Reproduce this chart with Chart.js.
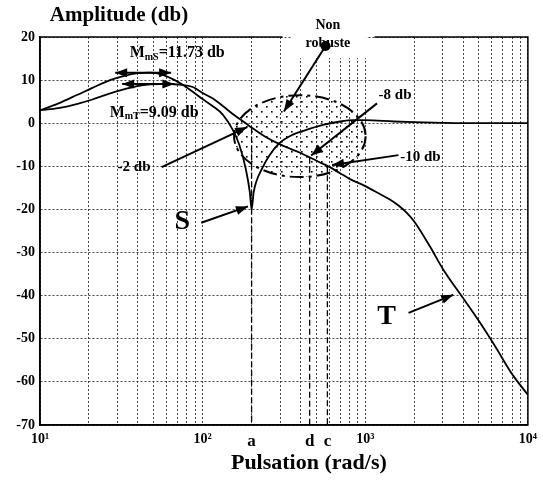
<!DOCTYPE html>
<html><head><meta charset="utf-8">
<script src="https://cdn.jsdelivr.net/npm/chart.js@4/dist/chart.umd.min.js"></script>
<style>html,body{margin:0;padding:0;background:#fff}</style>
</head><body>
<canvas id="c" width="543" height="482"></canvas>
<script>
// ---- data ----
const sFreq = [10,13,17,21,27,33,40,47,55,65,75,87,100,115,133,153,168,184,195,200,206,214,232,256,295,356,430,550,700,850,1000,1500,2000,3000,5000,10000];
const sGain = [3.0,4.6,6.6,8.2,10.0,11.0,11.6,11.73,11.4,10.3,9.0,7.3,5.6,4.0,2.0,-1.5,-5.0,-10.5,-16,-20,-16,-13.5,-10.5,-7.6,-4.7,-2.7,-1.6,-0.4,0.4,0.7,0.7,0.4,0.25,0.1,0,0];
const tFreq = [10,13,17,21,27,34,42,54,65,75,87,100,115,133,160,184,200,240,295,350,400,455,520,585,700,800,1000,1200,1400,1600,1800,2000,2500,3000,4000,5000,6300,8000,10000];
const tGain = [3.0,3.5,4.5,5.5,6.9,8.0,8.8,9.09,9.05,8.9,8.4,7.0,5.8,4.0,1.6,0.0,-1.0,-3.0,-4.8,-6.0,-6.9,-7.9,-9.0,-9.9,-11.6,-12.9,-14.6,-16.2,-17.6,-19.1,-20.8,-22.8,-28.6,-33.8,-40.6,-45.9,-51.8,-58.2,-63];
const yTicks = [20,10,0,-10,-20,-30,-40,-50,-60,-70];
const decadeTicks = [10,100,1000,10000];
const decadeLabels = ['10\u00B9','10\u00B2','10\u00B3','10\u2074'];
const markerFreq = [200,455,585];
const markerLabels = ['a','d','c'];
const markerTop = [-1,-8,-10];

const SERIF = '"Liberation Serif","Times New Roman",serif';

function near(a,b){return Math.abs(a-b) < 1e-6*Math.max(1,Math.abs(b));}
function xLabel(v){
  for (let i=0;i<decadeTicks.length;i++) if (near(v,decadeTicks[i])) return decadeLabels[i];
  for (let i=0;i<markerFreq.length;i++) if (near(v,markerFreq[i])) return markerLabels[i];
  return '';
}
function isMarker(v){return markerFreq.some(m=>near(v,m));}
function isExtraMarker(v){return isMarker(v) && !(near(v,200));}

// ---- annotation overlay (positions in data coordinates) ----
const notes = {
  ellipse: {xMin:156, xMax:1005, yMin:-12.5, yMax:6.5},
  clearBox: {xMin:349, xMax:1020, yMin:15.1, yMax:20},
  frameGap: {xMin:310, xMax:1140},
  texts: [
    {t:'-2 db', x:30, y:-10.2, size:15, align:'left'},
    {t:'S', x:75, y:-22.9, size:28, align:'center'},
    {t:'T', x:1352, y:-45, size:28, align:'center'},
    {t:'Non', x:589, y:22.8, size:14, align:'center'},
    {t:'robuste', x:589, y:18.6, size:14, align:'center'},
    {t:'-8 db', x:1208, y:6.5, size:15, align:'left'},
    {t:'-10 db', x:1641, y:-7.8, size:15, align:'left'}
  ],
  subTexts: [
    {main:'M', sub:'mS', rest:'=11.73 db', x:35.6, y:16.3, size:16},
    {main:'M', sub:'mT', rest:'=9.09 db', x:26.8, y:2.4, size:16}
  ],
  arrows: [
    {x1:29, y1:11.73, x2:64, y2:11.73, both:true},
    {x1:32, y1:9.09, x2:67, y2:9.09, both:true},
    {x1:56, y1:-10.2, x2:188, y2:-0.9},
    {x1:98, y1:-23.1, x2:190, y2:-19.3},
    {x1:1846, y1:-44, x2:3475, y2:-39.8},
    {x1:570, y1:17.9, x2:316, y2:2.7},
    {x1:1181, y1:4.6, x2:465, y2:-7.5},
    {x1:1600, y1:-7.4, x2:625, y2:-9.7}
  ],
  dot: {x:570, y:17.9}
};

function makeDotPattern(ctx){
  const pc = document.createElement('canvas');
  pc.width = 10; pc.height = 10;
  const p = pc.getContext('2d');
  p.fillStyle = '#000';
  p.fillRect(1,1,1.6,1.6);
  p.fillRect(6,6,1.6,1.6);
  return ctx.createPattern(pc,'repeat');
}

function arrowHead(ctx, x1,y1,x2,y2, len, wid){
  const a = Math.atan2(y2-y1, x2-x1);
  ctx.beginPath();
  ctx.moveTo(x2,y2);
  ctx.lineTo(x2 - len*Math.cos(a) + wid*Math.sin(a), y2 - len*Math.sin(a) - wid*Math.cos(a));
  ctx.lineTo(x2 - len*Math.cos(a) - wid*Math.sin(a), y2 - len*Math.sin(a) + wid*Math.cos(a));
  ctx.closePath();
  ctx.fill();
}

const overlay = {
  id:'overlay',
  beforeDatasetsDraw(chart){
    const ctx = chart.ctx, xs = chart.scales.x, ys = chart.scales.y;
    // white area under the "Non robuste" label
    const cb = notes.clearBox;
    ctx.save();
    ctx.fillStyle = '#fff';
    const cl = xs.getPixelForValue(cb.xMin), cr = xs.getPixelForValue(cb.xMax);
    const ct = ys.getPixelForValue(cb.yMax), cbt = ys.getPixelForValue(cb.yMin);
    ctx.fillRect(cl, ct-1, cr-cl, cbt-ct+1);
    ctx.restore();

    const e = notes.ellipse;
    const l = xs.getPixelForValue(e.xMin), r = xs.getPixelForValue(e.xMax);
    const t = ys.getPixelForValue(e.yMax), b = ys.getPixelForValue(e.yMin);
    ctx.save();
    ctx.beginPath();
    ctx.ellipse((l+r)/2,(t+b)/2,(r-l)/2,(b-t)/2,0,0,Math.PI*2);
    ctx.fillStyle = makeDotPattern(ctx);
    ctx.fill();
    ctx.setLineDash([14,5,3,5]);
    ctx.lineWidth = 2;
    ctx.strokeStyle = '#000';
    ctx.stroke();
    ctx.restore();
    // marker dashed verticals
    ctx.save();
    ctx.setLineDash([6,3]);
    ctx.lineWidth = 1.3;
    ctx.strokeStyle = '#000';
    markerFreq.forEach((f,i)=>{
      const px = xs.getPixelForValue(f);
      ctx.beginPath();
      ctx.moveTo(px, ys.getPixelForValue(markerTop[i]));
      ctx.lineTo(px, ys.getPixelForValue(-70));
      ctx.stroke();
    });
    ctx.restore();
  },
  afterDatasetsDraw(chart){
    const ctx = chart.ctx, xs = chart.scales.x, ys = chart.scales.y, ca = chart.chartArea;
    ctx.save();
    // frame with a gap in the top edge behind the label
    ctx.strokeStyle = '#000'; ctx.lineWidth = 1.5; ctx.setLineDash([]);
    const g1 = xs.getPixelForValue(notes.frameGap.xMin), g2 = xs.getPixelForValue(notes.frameGap.xMax);
    ctx.beginPath();
    ctx.moveTo(g1, ca.top); ctx.lineTo(ca.left, ca.top); ctx.lineTo(ca.left, ca.bottom);
    ctx.lineTo(ca.right, ca.bottom); ctx.lineTo(ca.right, ca.top); ctx.lineTo(g2, ca.top);
    ctx.stroke();
    // arrows
    ctx.fillStyle = '#000'; ctx.lineWidth = 2;
    notes.arrows.forEach(a=>{
      const x1 = xs.getPixelForValue(a.x1), y1 = ys.getPixelForValue(a.y1);
      const x2 = xs.getPixelForValue(a.x2), y2 = ys.getPixelForValue(a.y2);
      ctx.beginPath(); ctx.moveTo(x1,y1); ctx.lineTo(x2,y2); ctx.stroke();
      arrowHead(ctx,x1,y1,x2,y2,12,4.5);
      if (a.both) arrowHead(ctx,x2,y2,x1,y1,12,4.5);
    });
    // dot
    ctx.beginPath();
    ctx.arc(xs.getPixelForValue(notes.dot.x), ys.getPixelForValue(notes.dot.y), 5, 0, Math.PI*2);
    ctx.fill();
    // texts
    ctx.textBaseline = 'middle';
    notes.texts.forEach(n=>{
      ctx.font = 'bold ' + n.size + 'px ' + SERIF;
      ctx.textAlign = n.align;
      ctx.fillText(n.t, xs.getPixelForValue(n.x), ys.getPixelForValue(n.y));
    });
    ctx.textAlign = 'left';
    notes.subTexts.forEach(n=>{
      let x = xs.getPixelForValue(n.x); const y = ys.getPixelForValue(n.y);
      ctx.font = 'bold ' + n.size + 'px ' + SERIF;
      ctx.fillText(n.main, x, y); x += ctx.measureText(n.main).width;
      ctx.font = 'bold ' + Math.round(n.size*0.65) + 'px ' + SERIF;
      ctx.fillText(n.sub, x, y+4); x += ctx.measureText(n.sub).width;
      ctx.font = 'bold ' + n.size + 'px ' + SERIF;
      ctx.fillText(n.rest, x, y);
    });
    // axis titles
    ctx.font = 'bold 21px ' + SERIF;
    ctx.textAlign = 'left';
    ctx.fillText('Amplitude (db)', xs.getPixelForValue(11.5), ca.top - 21);
    ctx.font = 'bold 22px ' + SERIF;
    ctx.textAlign = 'center';
    ctx.fillText('Pulsation (rad/s)', xs.getPixelForValue(450), ca.bottom + 38);
    ctx.restore();
  }
};

const gridColor = '#444';
new Chart(document.getElementById('c'), {
  type:'line',
  data:{
    datasets:[
      {label:'S', data:sFreq.map((f,i)=>({x:f,y:sGain[i]})), borderColor:'#000', borderWidth:1.8, pointRadius:0, fill:false, tension:0.4, cubicInterpolationMode:'monotone'},
      {label:'T', data:tFreq.map((f,i)=>({x:f,y:tGain[i]})), borderColor:'#000', borderWidth:1.8, pointRadius:0, fill:false, tension:0.4, cubicInterpolationMode:'monotone'}
    ]
  },
  options:{
    responsive:false, animation:false, devicePixelRatio:1,
    layout:{padding:{top:37, right:13, left:0, bottom:0}},
    plugins:{legend:{display:false}, tooltip:{enabled:false}, title:{display:false}},
    scales:{
      x:{
        type:'logarithmic', min:10, max:10000,
        afterBuildTicks(scale){
          const vals=[];
          [10,100,1000].forEach(d=>{for(let m=1;m<=9;m++) vals.push(m*d);});
          vals.push(10000);
          markerFreq.forEach(m=>{ if(!vals.some(v=>near(v,m))) vals.push(m); });
          vals.sort((a,b)=>a-b);
          scale.ticks = vals.map(v=>({value:v}));
        },
        afterFit(scale){ scale.height = 57; },
        ticks:{
          autoSkip:false, maxRotation:0, minRotation:0, padding:6, color:'#000',
          callback:(v)=>xLabel(v),
          font:(ctx)=> (ctx.tick && isMarker(ctx.tick.value)) ? {family:SERIF, size:17, weight:'bold'} : {family:SERIF, size:14, weight:'bold'}
        },
        grid:{
          drawTicks:false, lineWidth:1,
          color:(ctx)=> (ctx.tick && isExtraMarker(ctx.tick.value)) ? 'rgba(0,0,0,0)' : gridColor
        },
        border:{display:true, color:'#000', width:1.5, dash:[2,2]}
      },
      y:{
        type:'linear', min:-70, max:20,
        afterBuildTicks(scale){ scale.ticks = yTicks.map(v=>({value:v})); },
        afterFit(scale){ scale.width = 40; },
        ticks:{ padding:5, color:'#000', font:{family:SERIF, size:14, weight:'bold'}, callback:(v)=>String(v) },
        grid:{ drawTicks:false, lineWidth:1, color:gridColor },
        border:{display:true, color:'#000', width:1.5, dash:[2,2]}
      }
    }
  },
  plugins:[overlay]
});
</script>
</body></html>
